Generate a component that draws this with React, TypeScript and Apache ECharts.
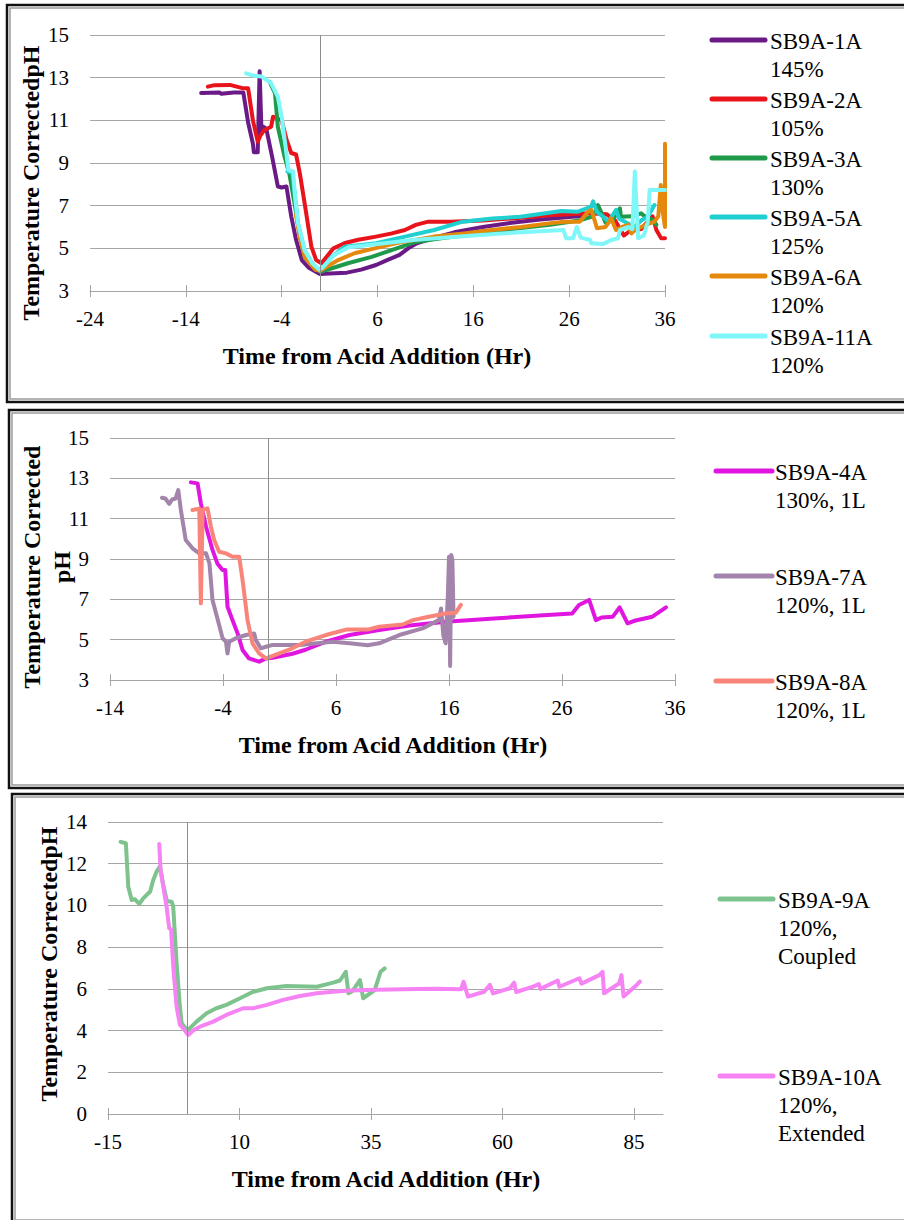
import { useEffect, useRef } from "react";
import * as echarts from "echarts";

const SERIF = "'Liberation Serif', 'Times New Roman', serif";

// ---------- Panel A: standard runs ----------
const TIME_TICKS_A = [-24, -14, -4, 6, 16, 26, 36];
const PH_TICKS_A = [3, 5, 7, 9, 11, 13, 15];

const SB9A_1A: [number, number][] = [
  [-12.4, 12.28], [-10.5, 12.3], [-10.3, 12.25], [-9.0, 12.3], [-8.0, 12.3], [-7.5, 10.9], [-7.0, 9.9],
  [-6.9, 9.5], [-6.5, 9.5], [-6.3, 13.3], [-6.1, 10.4], [-5.9, 10.7], [-5.6, 10.6], [-5.0, 9.3],
  [-4.4, 7.9], [-4.0, 7.85], [-3.5, 7.9], [-3.0, 6.5], [-2.5, 5.4], [-1.9, 4.45], [-1.2, 4.1],
  [-0.2, 3.84], [0, 3.8], [1, 3.82], [2.8, 3.86], [4.3, 4.0], [5.85, 4.22], [7.0, 4.45], [8.3, 4.69],
  [9.2, 5.0], [10.1, 5.24], [12, 5.5], [14, 5.75], [17, 6.0], [20, 6.2], [23, 6.35], [26.3, 6.48], [27.3, 6.5],
];
const SB9A_2A: [number, number][] = [
  [-11.7, 12.58], [-11, 12.65], [-9.4, 12.66], [-8.0, 12.5], [-7.5, 12.5], [-7.0, 11.0], [-6.5, 10.0],
  [-6.2, 10.3], [-5.8, 10.55], [-5.1, 10.7], [-4.9, 11.17], [-4.0, 11.0], [-3.5, 10.1], [-3.0, 9.47],
  [-2.5, 9.4], [-2.1, 8.5], [-1.6, 7.1], [-0.9, 5.08], [-0.4, 4.45], [0.15, 4.3], [1.4, 5.0], [2.6, 5.25],
  [4, 5.4], [5.85, 5.55], [7.5, 5.7], [8.86, 5.86], [10, 6.1], [11.3, 6.25], [13.7, 6.25], [17, 6.3],
  [20, 6.4], [24, 6.55], [28.1, 6.64], [29.9, 6.6], [30.8, 6.3], [31.7, 5.6], [32.3, 5.8], [33.5, 5.9],
  [34.7, 6.5], [35.1, 5.86], [35.6, 5.47], [36, 5.47],
];
const SB9A_3A: [number, number][] = [
  [-5.25, 12.8], [-4.7, 12.27], [-4.4, 10.7], [-3.7, 9.3], [-3.2, 8.5], [-2.6, 6.95], [-2.1, 5.55],
  [-1.6, 4.6], [-0.8, 4.2], [-0.2, 3.98], [0, 3.9], [1.5, 4.1], [2.9, 4.3], [5.4, 4.6], [8, 5.0],
  [10, 5.3], [13, 5.5], [16, 5.65], [20, 5.9], [24, 6.1], [27, 6.3], [28.5, 6.5], [29.0, 7.03],
  [29.4, 6.64], [29.8, 6.2], [30.5, 6.3], [31.3, 6.87], [31.4, 6.48], [32.5, 6.5], [33.5, 6.64],
  [34.2, 6.4], [34.8, 6.33], [35.1, 6.1],
];
const SB9A_5A: [number, number][] = [
  [-3.4, 8.6], [-2.9, 8.55], [-2.6, 7.4], [-2.3, 6.17], [-1.6, 4.9], [-0.8, 4.3], [-0.2, 4.0], [0, 3.95],
  [1.2, 4.6], [2.6, 5.08], [4, 5.15], [5.85, 5.24], [8.86, 5.55], [11.9, 5.86], [14.9, 6.25], [18, 6.4],
  [20.9, 6.48], [25.2, 6.75], [26.9, 6.72], [28.3, 6.95], [28.5, 7.2], [28.9, 6.7], [29.5, 6.5],
  [30.1, 6.25], [30.9, 6.8], [31.2, 6.4], [32, 6.2], [32.8, 6.0], [33.5, 6.3], [34.2, 6.48], [34.9, 7.03],
];
const SB9A_6A: [number, number][] = [
  [-2.5, 6.56], [-2.1, 5.5], [-1.6, 4.6], [-0.5, 4.0], [0, 3.95], [1.9, 4.45], [3.6, 4.77], [5.7, 5.0],
  [8, 5.25], [11.9, 5.55], [15, 5.7], [17.9, 5.86], [21, 6.0], [23.9, 6.17], [25.4, 6.25], [27.1, 6.25],
  [28, 6.72], [28.3, 6.8], [28.7, 6.25], [28.9, 5.94], [29.8, 6.0], [30.4, 6.4], [30.8, 5.94],
  [30.9, 5.86], [31.5, 6.0], [32.2, 6.1], [32.5, 5.7], [32.85, 5.86], [34, 6.1], [34.9, 6.25],
  [35.3, 6.5], [35.56, 7.97], [35.7, 6.9], [36, 6.0], [36, 9.9],
];
const SB9A_11A: [number, number][] = [
  [-7.7, 13.2], [-7, 13.1], [-6.1, 13.05], [-5.1, 12.74], [-4.4, 12.1], [-4.0, 11.17], [-3.6, 9.8],
  [-3.3, 8.67], [-2.8, 8.6], [-2.6, 7.4], [-2.3, 6.17], [-1.6, 4.9], [-0.8, 4.3], [-0.1, 4.0], [0.3, 4.1],
  [1.5, 4.7], [3, 5.05], [6, 5.2], [10, 5.4], [16, 5.6], [18.9, 5.7], [22, 5.78], [25.4, 5.86],
  [25.7, 5.47], [26.4, 5.47], [26.8, 6.0], [27.2, 5.5], [28.2, 5.39], [28.3, 5.24], [29.5, 5.2],
  [30.4, 5.39], [31.1, 5.47], [31.3, 5.86], [32.2, 6.0], [32.6, 5.9], [32.85, 8.6], [33.2, 5.47],
  [33.8, 5.6], [34.2, 6.25], [34.4, 7.73], [36, 7.73],
];

const NAMES_A = ["SB9A-1A", "SB9A-2A", "SB9A-3A", "SB9A-5A", "SB9A-6A", "SB9A-11A"];
const NOTES_A = [["145%"], ["105%"], ["130%"], ["125%"], ["120%"], ["120%"]];
const COLORS_A = ["#6A1A86", "#E8131B", "#1F9A4A", "#20CFD0", "#E5890C", "#7FF7F8"];
const DATA_A = [SB9A_1A, SB9A_2A, SB9A_3A, SB9A_5A, SB9A_6A, SB9A_11A];

// ---------- Panel B: 1 L runs ----------
const TIME_TICKS_B = [-14, -4, 6, 16, 26, 36];
const PH_TICKS_B = [3, 5, 7, 9, 11, 13, 15];

const SB9A_4A: [number, number][] = [
  [-6.84, 12.8], [-6.25, 12.75], [-5.96, 11.76], [-5.5, 10.6], [-4.93, 9.45], [-4.5, 8.78], [-4.04, 8.45],
  [-3.8, 8.45], [-3.6, 6.63], [-3.16, 5.97], [-2.7, 5.3], [-2.27, 4.49], [-1.7, 4.07], [-0.8, 3.91],
  [-0.2, 4.07], [0.4, 4.1], [2.15, 4.3], [3.3, 4.5], [5.1, 4.9], [7.2, 5.23], [9.82, 5.48], [12.5, 5.7],
  [15.7, 5.89], [20, 6.05], [24, 6.2], [26.9, 6.3], [27.5, 6.72], [28.4, 6.97], [29.0, 5.97], [29.5, 6.1],
  [30.5, 6.14], [31.1, 6.6], [31.8, 5.81], [32.5, 5.95], [34.0, 6.14], [35.2, 6.6],
];
const SB9A_7A: [number, number][] = [
  [-9.4, 12.04], [-9.1, 12.0], [-8.76, 11.73], [-8.5, 11.95], [-8.2, 12.0], [-7.96, 12.42], [-7.73, 11.43],
  [-7.3, 9.94], [-6.7, 9.53], [-6.1, 9.28], [-5.5, 9.28], [-5.2, 8.78], [-4.93, 6.97], [-4.3, 5.64],
  [-4.04, 5.07], [-3.74, 4.9], [-3.6, 4.32], [-3.45, 4.9], [-2.86, 5.07], [-1.97, 5.23], [-1.24, 5.31],
  [-1.1, 4.98], [-0.65, 4.57], [-0.2, 4.65], [0.4, 4.74], [2.74, 4.74], [5.7, 4.9], [7.2, 4.82],
  [8.8, 4.72], [9.82, 4.82], [11.6, 5.23], [13.66, 5.56], [15.1, 5.97], [15.3, 6.55], [15.5, 5.2],
  [15.7, 4.82], [15.9, 7.2], [16.0, 9.11], [16.1, 3.7], [16.2, 9.2], [16.3, 8.95], [16.4, 6.14],
];
const SB9A_8A: [number, number][] = [
  [-6.7, 11.43], [-6.1, 11.5], [-5.96, 6.8], [-5.8, 11.45], [-5.37, 11.51], [-5.07, 10.6], [-4.78, 9.94],
  [-4.34, 9.36], [-3.74, 9.28], [-3.16, 9.11], [-2.57, 9.11], [-2.27, 7.96], [-1.83, 5.97], [-1.39, 4.82],
  [-0.8, 4.32], [-0.2, 4.07], [0.4, 4.2], [2.15, 4.57], [3.3, 4.9], [5.1, 5.23], [6.9, 5.5], [8.8, 5.5],
  [9.8, 5.64], [11.9, 5.75], [12.8, 5.97], [14.2, 6.14], [15.7, 6.3], [16.6, 6.34], [17.05, 6.72],
];

const NAMES_B = ["SB9A-4A", "SB9A-7A", "SB9A-8A"];
const NOTES_B = [["130%, 1L"], ["120%, 1L"], ["120%, 1L"]];
const COLORS_B = ["#E016E0", "#A384AB", "#F9857A"];
const DATA_B = [SB9A_4A, SB9A_7A, SB9A_8A];

// ---------- Panel C: coupled / extended runs ----------
const TIME_TICKS_C = [-15, 10, 35, 60, 85];
const PH_TICKS_C = [0, 2, 4, 6, 8, 10, 12, 14];

const SB9A_9A: [number, number][] = [
  [-12.6, 13.05], [-11.6, 12.98], [-11.15, 10.9], [-10.5, 10.26], [-9.9, 10.3], [-9.07, 10.07], [-8.3, 10.34],
  [-7.35, 10.58], [-7.0, 10.66], [-6.4, 11.22], [-5.76, 11.62], [-5.13, 11.86], [-4.5, 11.0], [-3.86, 10.26],
  [-3.6, 10.2], [-2.9, 10.18], [-2.6, 9.94], [-1.96, 7.23], [-1.33, 5.14], [-1.0, 4.35], [0.1, 4.0],
  [1.84, 4.43], [3.74, 4.83], [5.6, 5.07], [7.5, 5.23], [10.1, 5.55], [12.6, 5.86], [15.2, 6.03],
  [18.9, 6.14], [24.7, 6.1], [27.8, 6.3], [29.1, 6.4], [30.2, 6.82], [30.7, 5.79], [31.5, 5.9],
  [32.9, 6.42], [33.5, 5.55], [35.7, 5.94], [36.8, 6.82], [37.6, 6.98],
];
const SB9A_10A: [number, number][] = [
  [-5.26, 12.94], [-5.0, 11.7], [-4.5, 10.9], [-3.86, 9.94], [-3.36, 8.9], [-3.0, 8.85], [-2.6, 7.07],
  [-1.96, 5.15], [-1.33, 4.27], [-0.7, 4.11], [0.25, 3.79], [1.2, 4.0], [2.5, 4.19], [5.0, 4.43],
  [7.5, 4.75], [10.7, 5.07], [12.6, 5.07], [15.2, 5.23], [18.3, 5.47], [21.5, 5.66], [24.7, 5.79],
  [27.8, 5.86], [31.0, 5.92], [36, 5.96], [41.2, 5.98], [47, 6.0], [52.1, 5.98], [52.6, 6.34],
  [53.4, 5.63], [56.5, 5.86], [57.6, 6.19], [58.2, 5.78], [61.4, 6.03], [62.2, 6.3], [62.6, 5.85],
  [65.8, 6.11], [66.9, 6.23], [67.2, 6.0], [70.5, 6.4], [70.8, 6.1], [74.6, 6.51], [75, 6.25],
  [78.4, 6.66], [79.0, 6.82], [79.3, 5.79], [82.2, 6.27], [82.6, 6.66], [83.0, 5.63], [85.5, 6.19],
  [86.1, 6.35],
];

const NAMES_C = ["SB9A-9A", "SB9A-10A"];
const NOTES_C = [["120%,", "Coupled"], ["120%,", "Extended"]];
const COLORS_C = ["#7EC38E", "#F683F3"];
const DATA_C = [SB9A_9A, SB9A_10A];

const X_TITLE = "Time from Acid Addition (Hr)";

// ---------- layout ----------
const GRID_LINE = "#A6A6A6";
const TICK_FONT = 21;
const LEGEND_FONT = 23;
const TITLE_FONT = 24;
const LINE_GAP = 28;

type PanelLayout = {
  grid: { left: number; top: number; width: number; height: number };
  xRange: [number, number];
  yRange: [number, number];
  xTitle: [number, number];
  yTitle: [number, number];
  yTitleText: string;
  legendSampleX: [number, number];
  legendTextX: number;
  legendY: number[];
  box: [number, number, number];
};

const PANELS: PanelLayout[] = [
  {
    grid: { left: 90, top: 35, width: 575, height: 256 },
    xRange: [-24, 36],
    yRange: [3, 15],
    xTitle: [377, 356],
    yTitle: [31, 183],
    yTitleText: "Temperature CorrectedpH",
    legendSampleX: [712, 765],
    legendTextX: 770,
    legendY: [41, 100, 159, 218, 277, 337],
    box: [7, 5, 402],
  },
  {
    grid: { left: 110, top: 438, width: 565, height: 242 },
    xRange: [-14, 36],
    yRange: [3, 15],
    xTitle: [393, 745],
    yTitle: [47, 567],
    yTitleText: "Temperature Corrected\npH",
    legendSampleX: [716, 772],
    legendTextX: 775,
    legendY: [472, 577, 682],
    box: [9, 410, 788],
  },
  {
    grid: { left: 108, top: 822, width: 555, height: 292 },
    xRange: [-15, 90.5],
    yRange: [0, 14],
    xTitle: [386, 1179],
    yTitle: [49, 964],
    yTitleText: "Temperature CorrectedpH",
    legendSampleX: [720, 773],
    legendTextX: 778,
    legendY: [900, 1077],
    box: [12, 794, 1223],
  },
];

const PANEL_SERIES = [
  { names: NAMES_A, notes: NOTES_A, colors: COLORS_A, data: DATA_A, xTicks: TIME_TICKS_A, yTicks: PH_TICKS_A },
  { names: NAMES_B, notes: NOTES_B, colors: COLORS_B, data: DATA_B, xTicks: TIME_TICKS_B, yTicks: PH_TICKS_B },
  { names: NAMES_C, notes: NOTES_C, colors: COLORS_C, data: DATA_C, xTicks: TIME_TICKS_C, yTicks: PH_TICKS_C },
];

function buildOption() {
  const grid: any[] = [];
  const xAxis: any[] = [];
  const yAxis: any[] = [];
  const series: any[] = [];
  const graphic: any[] = [];

  PANELS.forEach((p, i) => {
    const s = PANEL_SERIES[i];
    grid.push({ ...p.grid, containLabel: false });

    // main time axis with labels and outward ticks
    xAxis.push({
      type: "value",
      gridIndex: i,
      min: p.xRange[0],
      max: p.xRange[1],
      axisLine: { show: true, onZero: false, lineStyle: { color: GRID_LINE, width: 1 } },
      axisTick: { show: true, length: 6, customValues: s.xTicks, lineStyle: { color: GRID_LINE } },
      axisLabel: {
        customValues: s.xTicks,
        color: "#000",
        fontFamily: SERIF,
        fontSize: TICK_FONT,
        margin: 17,
      },
      splitLine: { show: false },
    });
    // companion axis drawing the inward half of the crossing tick marks
    xAxis.push({
      type: "value",
      gridIndex: i,
      position: "bottom",
      min: p.xRange[0],
      max: p.xRange[1],
      axisLine: { show: false, onZero: false },
      axisTick: { show: true, inside: true, length: 6, customValues: s.xTicks, lineStyle: { color: GRID_LINE } },
      axisLabel: { show: false },
      splitLine: { show: false },
    });

    yAxis.push({
      type: "value",
      gridIndex: i,
      min: p.yRange[0],
      max: p.yRange[1],
      axisLine: { show: false },
      axisTick: { show: false, customValues: s.yTicks },
      axisLabel: {
        customValues: s.yTicks,
        color: "#000",
        fontFamily: SERIF,
        fontSize: TICK_FONT,
        margin: 21,
      },
      splitLine: { show: true, lineStyle: { color: GRID_LINE, width: 1 } },
    });

    s.data.forEach((d, k) => {
      const item: any = {
        type: "line",
        name: s.names[k],
        xAxisIndex: i * 2,
        yAxisIndex: i,
        data: d,
        showSymbol: false,
        symbol: "none",
        clip: false,
        lineStyle: { color: s.colors[k], width: 4, cap: "round", join: "round" },
        itemStyle: { color: s.colors[k] },
      };
      if (k === 0) {
        item.markLine = {
          silent: true,
          symbol: ["none", "none"],
          label: { show: false },
          lineStyle: { color: "#8C8C8C", width: 1, type: "solid" },
          data: [{ xAxis: 0 }],
        };
      }
      series.push(item);

      // legend entry: colour sample + label lines
      const y0 = p.legendY[k];
      graphic.push({
        type: "line",
        shape: { x1: p.legendSampleX[0], y1: y0 - 1, x2: p.legendSampleX[1], y2: y0 - 1 },
        style: { stroke: s.colors[k], lineWidth: 5, lineCap: "round" },
      });
      [s.names[k], ...s.notes[k]].forEach((t, j) => {
        graphic.push({
          type: "text",
          x: p.legendTextX,
          y: y0 + j * LINE_GAP,
          style: {
            text: t,
            fontFamily: SERIF,
            fontSize: LEGEND_FONT,
            fill: "#000",
            align: "left",
            verticalAlign: "middle",
          },
        });
      });
    });

    // axis titles
    graphic.push({
      type: "text",
      x: p.xTitle[0],
      y: p.xTitle[1],
      style: {
        text: X_TITLE,
        fontFamily: SERIF,
        fontSize: TITLE_FONT,
        fontWeight: "bold",
        fill: "#000",
        align: "center",
        verticalAlign: "middle",
      },
    });
    graphic.push({
      type: "text",
      x: p.yTitle[0],
      y: p.yTitle[1],
      rotation: Math.PI / 2,
      style: {
        text: p.yTitleText,
        fontFamily: SERIF,
        fontSize: TITLE_FONT,
        fontWeight: "bold",
        lineHeight: 30,
        fill: "#000",
        align: "center",
        verticalAlign: "middle",
      },
    });

    // panel frame: dark outer rule with a grey inner rule
    const [bx, by, bb] = p.box;
    graphic.push({
      type: "rect",
      shape: { x: bx, y: by, width: 1000, height: bb - by },
      style: { fill: "none", stroke: "#111", lineWidth: 2.5 },
    });
    graphic.push({
      type: "rect",
      shape: { x: bx + 3, y: by + 3, width: 1000, height: bb - by - 6 },
      style: { fill: "none", stroke: "#9A9A9A", lineWidth: 1.5 },
    });
  });

  return {
    animation: false,
    backgroundColor: "#fff",
    grid,
    xAxis,
    yAxis,
    series,
    graphic,
  };
}

export default function App() {
  const ref = useRef<HTMLDivElement>(null);
  useEffect(() => {
    if (!ref.current) return;
    const chart = echarts.init(ref.current, undefined, { renderer: "svg" });
    chart.setOption(buildOption());
    return () => chart.dispose();
  }, []);
  return (
    <div
      ref={ref}
      style={{ position: "absolute", left: 0, top: 0, width: 904, height: 1220, background: "#fff" }}
    />
  );
}
